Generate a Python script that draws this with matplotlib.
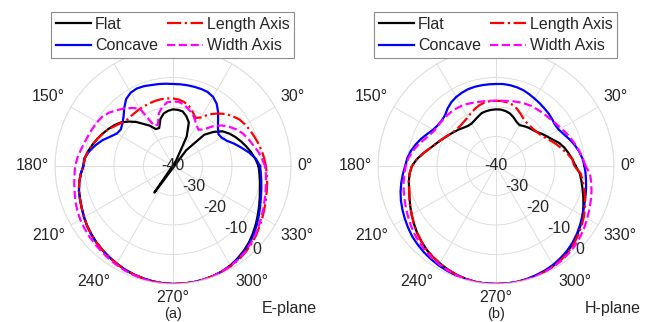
import numpy as np
import matplotlib
matplotlib.use("Agg")
import matplotlib.pyplot as plt

plt.rcParams['font.family'] = ['Liberation Sans', 'DejaVu Sans']

# ---------------- data ----------------
angles_deg = list(range(0, 361, 5))

# E-plane (a)
e_flat = [-11.0, -12.0, -13.1, -14.3, -15.5, -16.7, -18.0, -19.5, -22.0, -25.0,
          -33.0, -51.0, -38.0, -29.0, -24.3, -22.5, -21.2, -20.9, -20.8, -21.2,
          -21.9, -23.5, -26.3, -26.2, -24.2, -22.6, -20.5, -18.7, -17.0, -15.8,
          -14.8, -13.8, -12.8, -11.8, -10.8, -10.0, -9.6, -8.6, -7.7, -7.0,
          -6.5, -5.9, -5.2, -4.5, -3.9, -3.3, -2.8, -2.3, -1.8, -1.3,
          -0.9, -0.6, -0.3, -0.1, 0.0, 0.0, 0.0, -0.1, -0.3, -0.6,
          -1.1, -1.8, -2.6, -3.5, -4.6, -5.7, -6.8, -7.8, -8.7, -9.5,
          -10.1, -10.6, -11.0]
e_concave = [-10.5, -11.8, -13.8, -16.0, -17.9, -19.8, -20.9, -21.2, -20.1, -18.4,
             -16.2, -14.2, -12.9, -12.3, -12.2, -12.2, -12.2, -12.2, -12.2, -12.0,
             -11.8, -11.6, -11.2, -11.0, -11.3, -12.3, -14.3, -16.3, -17.6, -18.4,
             -18.0, -16.5, -14.5, -12.8, -11.2, -9.8, -9.6, -8.6, -7.7, -7.0,
             -6.5, -5.9, -5.2, -4.5, -3.9, -3.3, -2.8, -2.3, -1.8, -1.3,
             -0.9, -0.6, -0.3, -0.1, 0.0, 0.0, 0.0, -0.1, -0.3, -0.6,
             -1.0, -1.6, -2.3, -3.2, -4.2, -5.3, -6.4, -7.4, -8.3, -9.0,
             -9.6, -10.1, -10.5]
e_length = [-8.5, -9.0, -9.5, -10.1, -10.7, -11.2, -11.8, -12.5, -13.7, -15.0,
            -16.8, -18.6, -21.0, -22.0, -20.5, -19.0, -18.0, -17.4, -17.1, -17.0,
            -17.0, -17.1, -17.3, -17.5, -17.6, -17.8, -17.9, -17.9, -17.2, -16.2,
            -14.9, -13.8, -12.8, -11.8, -10.8, -10.0, -9.6, -8.6, -7.7, -7.0,
            -6.5, -5.9, -5.2, -4.5, -3.9, -3.3, -2.8, -2.3, -1.8, -1.3,
            -0.9, -0.6, -0.3, -0.1, 0.0, 0.0, 0.0, -0.1, -0.3, -0.5,
            -0.8, -1.2, -1.8, -2.5, -3.3, -4.2, -5.0, -5.8, -6.5, -7.1,
            -7.6, -8.1, -8.5]
e_width = [-8.8, -9.8, -10.8, -12.0, -12.9, -13.9, -15.2, -16.8, -18.6, -21.0,
           -23.8, -25.0, -24.0, -22.5, -21.0, -20.0, -18.8, -18.2, -18.1, -18.3,
           -19.5, -21.5, -25.0, -25.0, -17.5, -16.0, -14.5, -13.2, -11.8, -10.8,
           -10.3, -9.9, -9.5, -9.0, -8.3, -7.5, -6.8, -6.5, -6.0, -5.5,
           -4.8, -4.2, -3.7, -3.3, -2.9, -2.6, -2.2, -1.8, -1.4, -1.0,
           -0.7, -0.4, -0.2, 0.0, 0.0, 0.0, 0.0, -0.1, -0.3, -0.6,
           -0.9, -1.4, -2.0, -2.8, -3.6, -4.5, -5.4, -6.2, -6.9, -7.5,
           -8.0, -8.4, -8.8]

# H-plane (b)
h_flat = [-13.0, -14.0, -15.0, -16.0, -17.2, -18.8, -20.0, -21.0, -22.0, -22.6,
          -23.0, -23.5, -24.0, -23.5, -22.5, -21.6, -21.1, -20.8, -20.8, -20.9,
          -21.1, -21.4, -22.2, -22.9, -23.4, -23.4, -23.0, -22.4, -21.8, -21.1,
          -20.3, -19.3, -18.2, -16.8, -15.0, -13.1, -11.5, -10.6, -10.0, -9.5,
          -8.8, -7.9, -7.0, -6.0, -5.0, -4.1, -3.2, -2.5, -1.9, -1.3,
          -0.8, -0.4, -0.1, 0.0, 0.0, 0.0, 0.0, -0.1, -0.3, -0.6,
          -1.0, -1.5, -2.2, -3.0, -4.0, -5.0, -6.1, -7.3, -8.5, -9.6,
          -10.6, -11.5, -13.0]
h_concave = [-10.0, -10.6, -11.4, -12.4, -13.5, -14.6, -15.4, -15.6, -15.2, -14.8,
             -14.5, -14.1, -13.7, -13.2, -12.7, -12.4, -12.2, -12.1, -12.2, -12.2,
             -12.2, -12.2, -12.3, -12.6, -13.0, -13.6, -14.5, -15.6, -16.0, -15.9,
             -15.4, -14.3, -13.0, -11.8, -10.7, -9.8, -9.2, -8.3, -7.4, -6.5,
             -5.7, -5.0, -4.3, -3.6, -2.9, -2.4, -1.9, -1.5, -1.1, -0.8,
             -0.5, -0.3, -0.1, 0.0, 0.0, 0.0, -0.1, -0.3, -0.6, -0.9,
             -1.3, -1.9, -2.5, -3.3, -4.2, -5.2, -6.2, -7.1, -7.8, -8.4,
             -9.0, -9.5, -10.0]
h_length = [-13.5, -14.0, -15.5, -17.0, -18.3, -19.6, -20.8, -21.6, -22.0, -22.2,
            -22.2, -22.0, -21.4, -20.4, -19.3, -18.5, -18.1, -17.9, -17.9, -17.9,
            -18.1, -18.6, -19.3, -20.1, -20.9, -21.4, -21.7, -21.8, -21.6, -21.1,
            -20.3, -19.3, -18.2, -16.8, -15.0, -13.1, -11.5, -10.6, -10.0, -9.5,
            -8.8, -7.9, -7.0, -6.0, -5.0, -4.1, -3.2, -2.5, -1.9, -1.3,
            -0.8, -0.4, -0.1, 0.0, 0.0, 0.0, 0.0, -0.1, -0.3, -0.5,
            -0.9, -1.3, -1.9, -2.7, -3.6, -4.6, -5.6, -6.7, -7.9, -9.0,
            -10.1, -11.2, -13.5]
h_width = [-9.6, -10.5, -11.3, -12.1, -12.9, -13.7, -14.5, -15.1, -15.6, -15.9,
           -16.1, -16.3, -16.4, -16.7, -17.0, -17.3, -17.6, -17.8, -17.9, -17.8,
           -17.7, -17.5, -17.2, -16.8, -16.5, -16.3, -16.2, -16.1, -16.1, -16.1,
           -15.9, -15.2, -14.0, -12.6, -11.3, -10.2, -9.4, -8.8, -8.2, -7.6,
           -7.0, -6.3, -5.6, -4.8, -4.0, -3.3, -2.6, -2.0, -1.5, -1.0,
           -0.6, -0.3, -0.1, 0.0, 0.0, 0.0, 0.0, -0.1, -0.2, -0.4,
           -0.7, -1.0, -1.5, -2.0, -2.7, -3.5, -4.3, -5.1, -5.8, -6.5,
           -7.2, -8.0, -9.6]

series_names = ["Flat", "Concave", "Length Axis", "Width Axis"]
series_colors = ["#000000", "#0000ff", "#ff0000", "#ff00ff"]
series_styles = ["-", "-", "-.", "--"]

r_ticks = [-40, -30, -20, -10, 0]
r_tick_labels = ["-40", "-30", "-20", "-10", "0"]
theta_ticks = [0, 30, 150, 180, 210, 240, 270, 300, 330]
theta_tick_labels = ["0°", "30°", "150°", "180°", "210°", "240°", "270°", "300°", "330°"]
panel_titles = ["E-plane", "H-plane"]
panel_letters = ["(a)", "(b)"]

R_MIN, R_MAX = -40, 0
TXT = "#262626"
GRID = "#dedede"


def matlab_polar(theta_deg, db, rmin):
    """Values below rmin are drawn mirrored through the origin (MATLAB style)."""
    th = np.deg2rad(np.asarray(theta_deg, float))
    d = np.asarray(db, float)
    below = d < rmin
    th = np.where(below, th + np.pi, th)
    r = np.where(below, 2 * rmin - d, d)
    return th, r


fig = plt.figure(figsize=(6.49, 3.22), dpi=100)
W, H = 649, 322
rad_px = 118
centers = [(173, 166), (496, 166)]
datasets = [[e_flat, e_concave, e_length, e_width],
            [h_flat, h_concave, h_length, h_width]]

for k, (cx, cy) in enumerate(centers):
    ax = fig.add_axes([(cx - rad_px) / W, (H - cy - rad_px) / H,
                       2 * rad_px / W, 2 * rad_px / H], projection='polar')
    ax.set_ylim(R_MIN, R_MAX)
    ax.set_yticks(r_ticks)
    ax.set_yticklabels([])
    ax.set_xticks(np.deg2rad(np.arange(0, 360, 30)))
    ax.set_xticklabels([])
    ax.grid(True, color=GRID, linewidth=0.7)
    ax.spines['polar'].set_color(GRID)
    ax.spines['polar'].set_linewidth(0.7)
    ax.tick_params(length=0)

    handles = []
    for vals, name, col, ls in zip(datasets[k], series_names, series_colors, series_styles):
        th, r = matlab_polar(angles_deg, vals, R_MIN)
        h, = ax.plot(th, r, color=col, linestyle=ls, linewidth=1.6, label=name)
        handles.append(h)

    # radial labels along -45 deg
    for rv, lab in zip(r_ticks, r_tick_labels):
        ax.text(np.deg2rad(-45), rv, lab, ha='center', va='center',
                fontsize=11.5, color=TXT)
    # angular labels
    r_lab = R_MIN + (R_MAX - R_MIN) * 1.055
    for tv, lab in zip(theta_ticks, theta_tick_labels):
        c, s = np.cos(np.deg2rad(tv)), np.sin(np.deg2rad(tv))
        ha = 'left' if c > 0.01 else ('right' if c < -0.01 else 'center')
        va = 'bottom' if s > 0.01 else ('top' if s < -0.01 else 'center')
        ax.text(np.deg2rad(tv), r_lab, lab, ha=ha, va=va, fontsize=11.5, color=TXT)

    leg = ax.legend(handles=handles, ncol=2, loc='upper center',
                    bbox_to_anchor=((cx - 0.5) / W, 1 - 12 / H),
                    bbox_transform=fig.transFigure, fontsize=11.5,
                    frameon=True, fancybox=False, framealpha=1,
                    edgecolor='#8c8c8c', handlelength=2.2, handletextpad=0.25,
                    columnspacing=0.6, labelspacing=0.4, borderpad=0.3,
                    borderaxespad=0)
    leg.get_frame().set_linewidth(0.8)
    for t in leg.get_texts():
        t.set_color(TXT)

    fig.text((cx + 89) / W, 1 - 309 / H, panel_titles[k], ha='left', va='center',
             fontsize=11.5, color=TXT)
    fig.text(cx / W, 1 / H, panel_letters[k], ha='center', va='bottom',
             fontsize=10.5, color=TXT)

fig.savefig("out.png", dpi=100)
